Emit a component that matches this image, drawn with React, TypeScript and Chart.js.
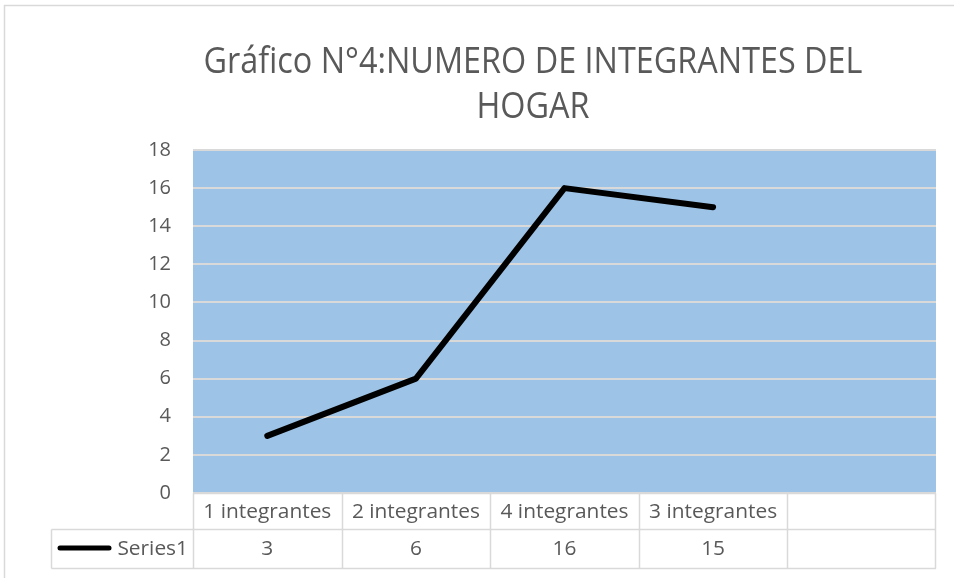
import React, { useEffect, useRef } from "react";
import { Chart, registerables } from "chart.js";

Chart.register(...registerables);

const categories: string[] = ["1 integrantes", "2 integrantes", "4 integrantes", "3 integrantes", ""];
const seriesName = "Series1";
const seriesValues: (number | null)[] = [3, 6, 16, 15, null];
const titleLines: string[] = ["Gráfico N°4:NUMERO DE INTEGRANTES DEL", "HOGAR"];
const yMin = 0;
const yMax = 18;
const yStep = 2;

const TEXT = "#595959";
const BORDER = "#D9D9D9";
const PLOT_BG = "#9DC3E6";
const FONT = "'Open Sans', 'Liberation Sans', sans-serif";

function drawScaled(ctx: CanvasRenderingContext2D, text: string, x: number, y: number, sx: number, align: "left" | "center" | "right") {
  ctx.save();
  ctx.translate(x, y);
  ctx.scale(sx, 1);
  ctx.textAlign = align;
  ctx.textBaseline = "alphabetic";
  ctx.fillText(text, 0, 0);
  ctx.restore();
}

const decorPlugin = {
  id: "decor",
  beforeDraw(chart: any) {
    const { ctx, chartArea } = chart;
    ctx.save();
    ctx.fillStyle = "#ffffff";
    ctx.fillRect(0, 0, chart.width, chart.height);
    // outer frame
    ctx.strokeStyle = BORDER;
    ctx.lineWidth = 1.5;
    ctx.beginPath();
    ctx.moveTo(4.5, chart.height + 2);
    ctx.lineTo(4.5, 5.5);
    ctx.lineTo(chart.width + 2, 5.5);
    ctx.stroke();
    // plot background
    ctx.fillStyle = PLOT_BG;
    ctx.fillRect(chartArea.left, chartArea.top, chartArea.right - chartArea.left, chartArea.bottom - chartArea.top);
    // title
    ctx.fillStyle = TEXT;
    ctx.font = `37px ${FONT}`;
    const w0 = ctx.measureText(titleLines[0]).width;
    const sx = 659 / w0;
    drawScaled(ctx, titleLines[0], 533, 73, sx, "center");
    drawScaled(ctx, titleLines[1], 533, 118, sx, "center");
    ctx.restore();
  },
  afterDraw(chart: any) {
    const { ctx, chartArea } = chart;
    const xs = chart.scales.x;
    const n = categories.length;
    const colW = (chartArea.right - chartArea.left) / n;
    const r0 = chartArea.bottom;
    const r1 = 529.5;
    const r2 = 568.5;
    const legendLeft = 51.5;
    ctx.save();
    ctx.strokeStyle = BORDER;
    ctx.lineWidth = 1.5;
    ctx.beginPath();
    ctx.moveTo(chartArea.left, r0 + 0.5);
    ctx.lineTo(chartArea.right, r0 + 0.5);
    ctx.moveTo(legendLeft, r1);
    ctx.lineTo(chartArea.right, r1);
    ctx.moveTo(legendLeft, r2);
    ctx.lineTo(chartArea.right, r2);
    ctx.moveTo(legendLeft, r1);
    ctx.lineTo(legendLeft, r2);
    for (let i = 0; i <= n; i++) {
      const x = Math.round(xs.getPixelForValue(i) - colW / 2) + 0.5;
      const xx = i === n ? Math.round(chartArea.right) - 0.5 : x;
      ctx.moveTo(xx, r0);
      ctx.lineTo(xx, r2);
    }
    ctx.stroke();

    ctx.fillStyle = TEXT;
    ctx.font = `20px ${FONT}`;
    const sx = 128 / ctx.measureText(categories[0]).width;
    for (let i = 0; i < n; i++) {
      const cx = xs.getPixelForValue(i);
      if (categories[i]) drawScaled(ctx, categories[i], cx, 518, sx, "center");
      const v = seriesValues[i];
      if (v !== null && v !== undefined) drawScaled(ctx, String(v), cx, 555, sx, "center");
    }
    drawScaled(ctx, seriesName, 188, 555, sx, "right");
    // legend key
    ctx.strokeStyle = "#000000";
    ctx.lineWidth = 5;
    ctx.lineCap = "round";
    ctx.beginPath();
    ctx.moveTo(60, 548);
    ctx.lineTo(109, 548);
    ctx.stroke();
    ctx.restore();
  },
};

export default function App() {
  const ref = useRef<HTMLCanvasElement | null>(null);
  useEffect(() => {
    if (!ref.current) return;
    const chart = new Chart(ref.current, {
      type: "line",
      data: {
        labels: categories,
        datasets: [
          {
            label: seriesName,
            data: seriesValues,
            borderColor: "#000000",
            borderWidth: 6,
            borderCapStyle: "round",
            borderJoinStyle: "round",
            pointRadius: 0,
            tension: 0,
            fill: false,
          },
        ],
      },
      options: {
        animation: false,
        responsive: false,
        layout: { padding: { left: 0, top: 150, right: 18, bottom: 85 } },
        plugins: { legend: { display: false }, title: { display: false }, tooltip: { enabled: false } },
        scales: {
          x: { type: "category", display: false, offset: true },
          y: {
            min: yMin,
            max: yMax,
            ticks: { stepSize: yStep, color: TEXT, font: { size: 20, family: FONT }, padding: 22 },
            grid: { color: BORDER, lineWidth: 2, drawTicks: false },
            border: { display: false },
            afterFit: (s: any) => {
              s.width = 193;
            },
          },
        },
      },
      plugins: [decorPlugin],
    } as any);
    return () => chart.destroy();
  }, []);
  return (
    <div style={{ position: "absolute", left: 0, top: 0, width: 954, height: 578 }}>
      <canvas ref={ref} width={954} height={578} style={{ display: "block" }} />
    </div>
  );
}
